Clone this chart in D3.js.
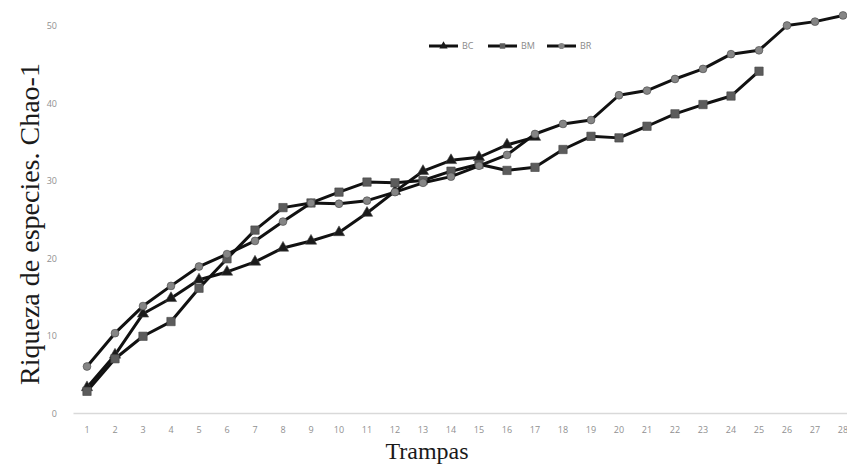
<!DOCTYPE html>
<html>
<head>
    <meta charset="utf-8">
    <style type="text/css">
        body { margin: 0; background: #fff; }
        #mySvg { width: 847px; height: 465px; display: block; }
        .tick text { font-family: "Open Sans", sans-serif; font-size: 9px; fill: #909090; }
        .title { font-family: "Liberation Serif", serif; fill: #1a1a1a; text-anchor: middle; }
        .legend text { font-family: "Open Sans", sans-serif; font-size: 9px; fill: #8a8a8a; }
    </style>
    <script src="https://d3js.org/d3.v7.min.js"></script>
</head>
<body>
    <svg id="mySvg"></svg>
<script type="text/javascript">
// values
const trampas = d3.range(1, 29);
const yTicks = [0, 10, 20, 30, 40, 50];
const seriesNames = ['BC', 'BM', 'BR'];
const bc = [3.3, 7.5, 12.8, 14.8, 17.2, 18.2, 19.5, 21.3, 22.2, 23.3, 25.8, 28.6, 31.2, 32.6, 33.0, 34.6, 35.6];
const bm = [2.8, 7.0, 9.9, 11.8, 16.1, 19.9, 23.6, 26.5, 27.1, 28.5, 29.8, 29.7, 30.0, 31.2, 32.1, 31.3, 31.7, 34.0, 35.7, 35.5, 37.0, 38.6, 39.8, 40.9, 44.1];
const br = [6.0, 10.3, 13.8, 16.4, 18.9, 20.5, 22.2, 24.7, 27.1, 27.0, 27.4, 28.5, 29.7, 30.5, 31.9, 33.3, 36.0, 37.3, 37.8, 41.0, 41.6, 43.1, 44.4, 46.3, 46.8, 50.0, 50.5, 51.3];

const series = [
    { name: seriesNames[0], values: bc, marker: d3.symbolTriangle, size: 55, fill: '#1a1a1a' },
    { name: seriesNames[1], values: bm, marker: d3.symbolSquare, size: 70, fill: '#5c5c5c' },
    { name: seriesNames[2], values: br, marker: d3.symbolCircle, size: 48, fill: '#858585' }
];

const svg = d3.select('#mySvg');

const x = d3.scaleBand()
    .domain(trampas)
    .range([73, 857]);

const y = d3.scaleLinear()
    .domain([0, 50])
    .range([413, 25.5]);

const cx = i => x(i + 1) + x.bandwidth() / 2;

// x axis (Excel style, no tick marks)
const xAxis = svg.append('g')
    .attr('transform', 'translate(0,' + y(0) + ')')
    .call(d3.axisBottom(x).tickSize(0).tickPadding(14));
xAxis.select('.domain').attr('stroke', '#d9d9d9').attr('stroke-width', 1.5);

// y axis: labels only
const yAxis = svg.append('g')
    .attr('transform', 'translate(57,0)')
    .call(d3.axisLeft(y).tickValues(yTicks).tickSize(0).tickPadding(0));
yAxis.select('.domain').remove();
yAxis.selectAll('text').attr('dy', '0.35em');

// titles
svg.append('text')
    .attr('class', 'title')
    .attr('x', 427)
    .attr('y', 459)
    .style('font-size', '24px')
    .text('Trampas');

svg.append('text')
    .attr('class', 'title')
    .attr('transform', 'translate(39,224) rotate(-90)')
    .style('font-size', '28px')
    .text('Riqueza de especies. Chao-1');

const line = d3.line()
    .x((d, i) => cx(i))
    .y(d => y(d));

// draw lines first, then markers on top
const groups = svg.selectAll('g.serie')
    .data(series)
    .enter()
    .append('g')
    .attr('class', 'serie');

groups.append('path')
    .attr('d', d => line(d.values))
    .attr('fill', 'none')
    .attr('stroke', '#111')
    .attr('stroke-width', 3)
    .attr('stroke-linejoin', 'round');

groups.each(function(s) {
    d3.select(this).selectAll('path.mark')
        .data(s.values)
        .enter()
        .append('path')
        .attr('class', 'mark')
        .attr('d', d3.symbol().type(s.marker).size(s.size))
        .attr('transform', (d, i) => 'translate(' + cx(i) + ',' + y(d) + ')')
        .attr('fill', s.fill)
        .attr('stroke', '#444')
        .attr('stroke-width', 0.6);
});

// legend
const legend = svg.append('g')
    .attr('class', 'legend')
    .attr('transform', 'translate(429,46)')
    .selectAll('g')
    .data(series)
    .enter()
    .append('g')
    .attr('transform', (d, i) => 'translate(' + (i * 59) + ',0)');

legend.append('line')
    .attr('x1', 0).attr('x2', 29)
    .attr('stroke', '#111')
    .attr('stroke-width', 3);

legend.append('path')
    .attr('d', d => d3.symbol().type(d.marker).size(30)())
    .attr('transform', 'translate(14.5,0)')
    .attr('fill', d => d.fill);

legend.append('text')
    .attr('x', 33)
    .attr('dy', '0.35em')
    .text(d => d.name);
</script>
</body>
</html>
